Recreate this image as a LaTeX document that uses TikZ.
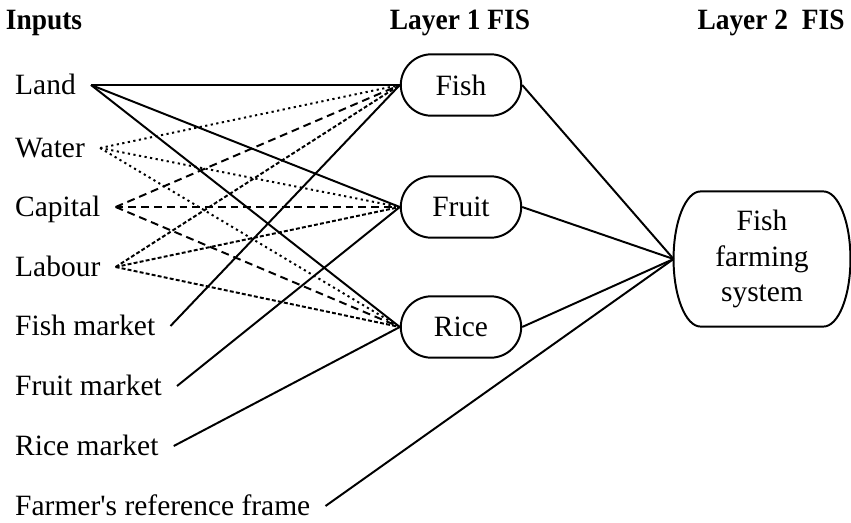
\documentclass[tikz,border=0pt]{standalone}
\usepackage{fontspec}
\setmainfont{Liberation Serif}
\usetikzlibrary{shapes.misc}

\tikzset{
  head/.style={font=\fontsize{12}{14}\selectfont\bfseries, xscale=0.93},
  input/.style={anchor=west, inner xsep=6pt, inner ysep=0pt, text height=8pt, text depth=0pt, font=\fontsize{12}{14}\selectfont},
  fis/.style={draw, line width=0.8pt, rounded rectangle, minimum width=49pt, minimum height=25pt, inner sep=0pt, font=\fontsize{12}{14}\selectfont},
  sysbox/.style={minimum width=72pt, minimum height=55pt, inner sep=0pt, outer sep=0pt, align=center, font=\fontsize{12}{14.6}\selectfont},
  link/.style={line width=0.8pt},
  water/.style={line width=0.8pt, dash pattern=on 0.9pt off 1.4pt},
  capital/.style={line width=0.8pt, dash pattern=on 3.2pt off 2pt},
  labour/.style={line width=0.8pt, dash pattern=on 1.6pt off 0.9pt}
}

\begin{document}
\begin{tikzpicture}[x=0.407pt, y=-0.407pt]
\useasboundingbox (0,0) rectangle (851,522);
\node[head] (hin) at (44,23) {Inputs};
\node[head] (hl1) at (460,23) {Layer 1 FIS};
\node[head] (hl2) at (771,23) {Layer 2\ \ FIS};
\node[input] (land) at (0,85) {Land};
\node[input] (water) at (0,148) {Water};
\node[input] (capital) at (0,207) {Capital};
\node[input] (labour) at (0,267) {Labour};
\node[input] (fishm) at (0,326) {Fish market};
\node[input] (fruitm) at (0,386) {Fruit market};
\node[input] (ricem) at (0,446) {Rice market};
\node[input] (frame) at (0,506) {Farmer\textquotesingle s reference frame};
\node[fis] (fish) at (461,85) {Fish};
\node[fis] (fruit) at (461,207) {Fruit};
\node[fis] (rice) at (461,327) {Rice};
\node[sysbox] (sys) at (762,259) {Fish\\farming\\system};
\draw[link] ([xshift=11pt]sys.north west) -- ([xshift=-11pt]sys.north east)
  arc[start angle=90, end angle=-90, x radius=11pt, y radius=27.5pt]
  -- ([xshift=11pt]sys.south west)
  arc[start angle=270, end angle=90, x radius=11pt, y radius=27.5pt] -- cycle;
\foreach \t in {fish,fruit,rice}{
  \draw[link] (land.east) -- (\t.west);
  \draw[water] (water.east) -- (\t.west);
  \draw[capital] (capital.east) -- (\t.west);
  \draw[labour] (labour.east) -- (\t.west);
  \draw[link] (\t.east) -- (sys.west);
}
\draw[link] (fishm.east) -- (fish.west);
\draw[link] (fruitm.east) -- (fruit.west);
\draw[link] (ricem.east) -- (rice.west);
\draw[link] (frame.east) -- (sys.west);
\end{tikzpicture}
\end{document}
